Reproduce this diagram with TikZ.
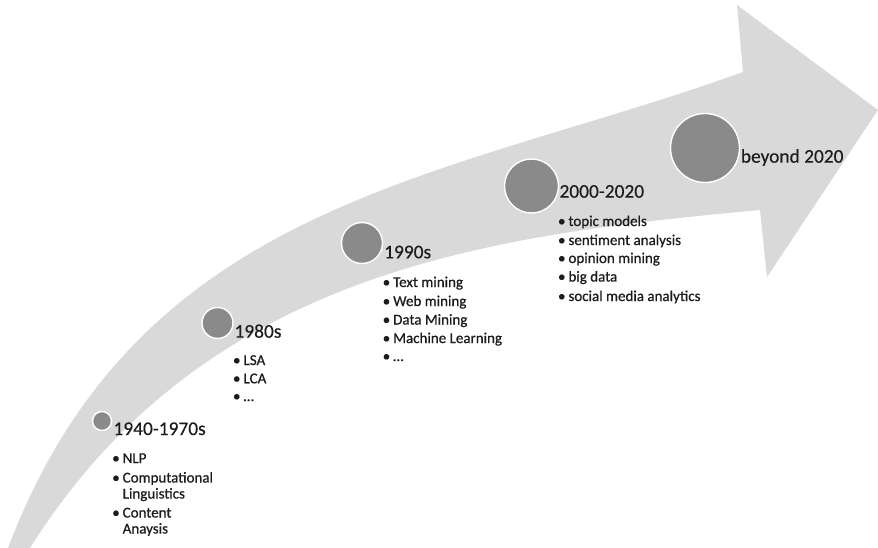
\documentclass[tikz,border=0pt]{standalone}
\usepackage{fontspec}
\setmainfont{Carlito}
\newfontfamily\headfont{Carlito}[FakeBold=0.25]
\newfontfamily\entryfont{Carlito}[FakeBold=0.7]
\definecolor{band}{RGB}{217,217,217}
\definecolor{dot}{RGB}{138,138,138}
\definecolor{ink}{RGB}{28,28,28}
\begin{document}
\begin{tikzpicture}[x=1pt,y=-1pt,
  era/.style={circle, fill=dot, draw=white, line width=1.4pt, inner sep=0pt, minimum size=#1},
  heading/.style={anchor=base west, inner sep=0pt, text=ink, font=\headfont\fontsize{19.4}{23}\selectfont},
  entry/.style={anchor=base west, inner sep=0pt, text=ink, font=\entryfont\fontsize{15}{18}\selectfont},
]
\useasboundingbox[fill=white] (0,0) rectangle (878,548);
\newcommand\bul{\llap{\textbullet\hskip 3pt}}

% curved timeline arrow
\fill[band] (8,548) .. controls (140,200) and (443,180) .. (743,72)
  -- (737,5) -- (878,110) -- (767,277) -- (760,210)
  .. controls (490,235) and (205,270) .. (30,548) -- cycle;

% milestones
\node[era=19pt] (c1940) at (102,421) {};
\node[era=31pt] (c1980) at (217.5,323) {};
\node[era=41pt] (c1990) at (362,243) {};
\node[era=54pt] (c2000) at (531.5,186) {};
\node[era=69pt] (cnext) at (705,148) {};

% 1940-1970s
\node[heading] (h1940) at (113.3,435) {1940-1970s};
\node[entry] (a1) at (122.5,463) {\bul NLP};
\node[entry] (a2) at (122.5,482.5) {\bul Computational};
\node[entry] (a3) at (122.5,498.5) {Linguistics};
\node[entry] (a4) at (122.5,517.5) {\bul Content};
\node[entry] (a5) at (122.5,533.5) {Anaysis};

% 1980s
\node[heading] (h1980) at (234.3,337.7) {1980s};
\node[entry] (b1) at (243.3,365) {\bul LSA};
\node[entry] (b2) at (243.3,383.3) {\bul LCA};
\node[entry] (b3) at (243.3,401) {\bul …};

% 1990s
\node[heading] (h1990) at (384,258.3) {1990s};
\node[entry] (d1) at (393,287) {\bul Text mining};
\node[entry] (d2) at (393,306) {\bul Web mining};
\node[entry] (d3) at (393,324.5) {\bul Data Mining};
\node[entry] (d4) at (393,343) {\bul Machine Learning};
\node[entry] (d5) at (393,361) {\bul …};

% 2000-2020
\node[heading] (h2000) at (559.3,197.7) {2000-2020};
\node[entry] (e1) at (568.3,226) {\bul topic models};
\node[entry] (e2) at (568.3,245) {\bul sentiment analysis};
\node[entry] (e3) at (568.3,263) {\bul opinion mining};
\node[entry] (e4) at (568.3,281.5) {\bul big data};
\node[entry] (e5) at (568.3,301) {\bul social media analytics};

% beyond 2020
\node[heading] (hnext) at (740.7,162.7) {beyond 2020};
\end{tikzpicture}
\end{document}
